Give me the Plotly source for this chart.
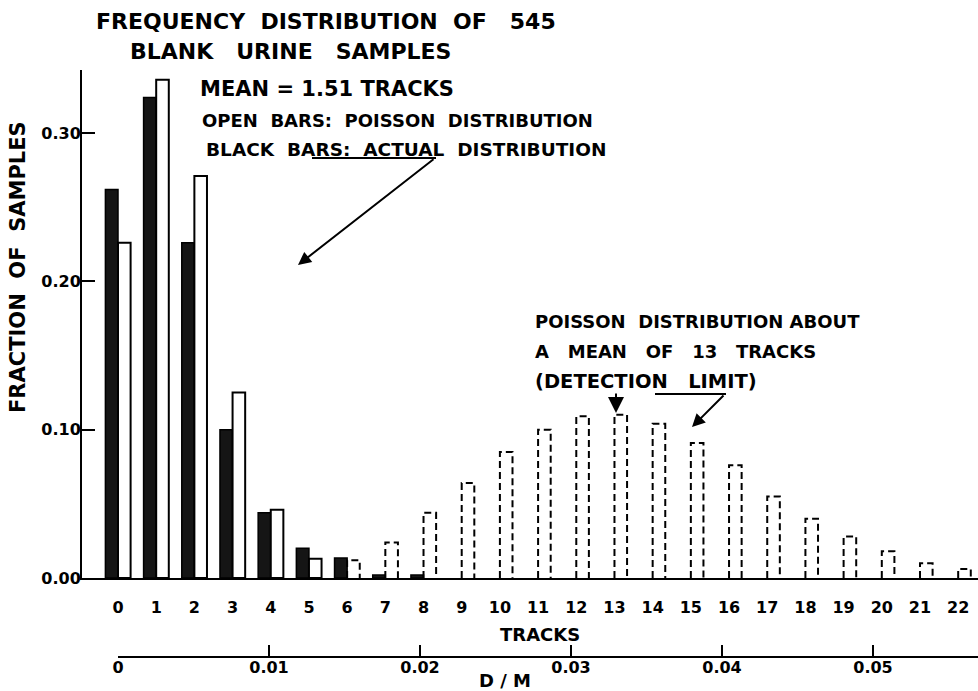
import plotly.graph_objects as go

# ---- data ----
tracks = list(range(0, 23))
tick_labels = [str(t) for t in tracks]

actual_tracks = [0, 1, 2, 3, 4, 5, 6, 7, 8]
actual_frac = [0.262, 0.324, 0.226, 0.100, 0.044, 0.020, 0.0135, 0.002, 0.002]

poisson_low_tracks = [0, 1, 2, 3, 4, 5]
poisson_low_frac = [0.226, 0.336, 0.271, 0.125, 0.046, 0.013]

poisson_13_tracks = [6, 7, 8, 9, 10, 11, 12, 13, 14, 15, 16, 17, 18, 19, 20, 21, 22]
poisson_13_frac = [0.012, 0.024, 0.044, 0.064, 0.085, 0.100, 0.109, 0.110, 0.104,
                   0.091, 0.076, 0.055, 0.040, 0.028, 0.018, 0.010, 0.006]

dm_ticks = [0, 0.01, 0.02, 0.03, 0.04, 0.05]
dm_labels = ["0", "0.01", "0.02", "0.03", "0.04", "0.05"]
y_ticks = [0.0, 0.1, 0.2, 0.3]

# ---- geometry ----
W_PX, H_PX = 978, 691
L, R, T, B = 82, 978, 70, 657          # plot-area pixel box
BASE = 578                              # pixel row of the tracks axis
PW, PH = R - L, B - T

def xp(px):
    return (px - L) / PW

def yp(py):
    return (B - py) / PH

BAR_W = 0.33
OFF = 0.165
FONT = "DejaVu Sans"
NB = "\u00a0"

fig = go.Figure()

# actual distribution (black bars)
fig.add_trace(go.Bar(
    x=[t - OFF for t in actual_tracks], y=actual_frac, width=BAR_W,
    marker=dict(color="#151515", line=dict(color="#000000", width=1.5)),
    showlegend=False, hoverinfo="skip"))

# Poisson, mean 1.51 (open bars, solid outline)
fig.add_trace(go.Bar(
    x=[t + OFF for t in poisson_low_tracks], y=poisson_low_frac, width=BAR_W,
    marker=dict(color="white", line=dict(color="#000000", width=2)),
    showlegend=False, hoverinfo="skip"))

# Poisson, mean 13 (open bars, dashed outline) -- outline built from the data
dx, dy = [], []
for t, v in zip(poisson_13_tracks, poisson_13_frac):
    c = t + OFF
    dx += [c - BAR_W / 2, c - BAR_W / 2, c + BAR_W / 2, c + BAR_W / 2, None]
    dy += [0, v, v, 0, None]
fig.add_trace(go.Scatter(
    x=dx, y=dy, mode="lines",
    line=dict(color="#000000", width=2, dash="7px,4px"),
    showlegend=False, hoverinfo="skip", cliponaxis=False))

# invisible trace so the D/M axis is drawn
fig.add_trace(go.Scatter(
    x=[dm_ticks[0], dm_ticks[-1]], y=[0, 0], xaxis="x2", yaxis="y",
    mode="markers", marker=dict(opacity=0), showlegend=False, hoverinfo="skip"))

px_per_track = 38.19
x0_px = 118
xr = [(L - x0_px) / px_per_track, (R - x0_px) / px_per_track]

px_per_dm = 15100.0
dm_range = [0, (R - x0_px) / px_per_dm]

fig.update_layout(
    width=W_PX, height=H_PX,
    margin=dict(l=L, r=W_PX - R, t=T, b=H_PX - B),
    paper_bgcolor="white", plot_bgcolor="rgba(0,0,0,0)",
    barmode="overlay",
    font=dict(family=FONT, color="black"),
    xaxis=dict(
        range=xr, tickvals=tracks, ticktext=tick_labels,
        showline=True, linecolor="black", linewidth=2,
        showgrid=False, zeroline=False, ticks="", anchor="y",
        ticklabelstandoff=14,
        tickfont=dict(family=FONT, size=16, weight="bold", color="black")),
    yaxis=dict(
        range=[0, 0.3425], domain=[yp(BASE), 1],
        tickvals=y_ticks, tickformat=".2f",
        showline=True, linecolor="black", linewidth=2,
        showgrid=False, zeroline=False,
        ticks="inside", ticklen=13, tickwidth=2, tickcolor="black",
        ticklabelstandoff=-4,
        tickfont=dict(family=FONT, size=16, weight="bold", color="black")),
    xaxis2=dict(
        range=dm_range, domain=[xp(x0_px), 1], anchor="free", position=0,
        tickvals=dm_ticks, ticktext=dm_labels,
        showline=True, linecolor="black", linewidth=2,
        showgrid=False, zeroline=False,
        ticks="inside", ticklen=11, tickwidth=2, tickcolor="black",
        ticklabelstandoff=-4,
        tickfont=dict(family=FONT, size=16, weight="bold", color="black")),
)

def txt(s, px, py, size, anchor="left", angle=0):
    fig.add_annotation(
        text=s, x=xp(px), y=yp(py), xref="paper", yref="paper",
        xanchor=anchor, yanchor="middle", showarrow=False, textangle=angle,
        font=dict(family=FONT, size=size, weight="bold", color="black"))

def sp(s, n):
    return s.replace(" ", NB * n)

txt(sp("FREQUENCY DISTRIBUTION OF", 2) + NB * 3 + "545", 94, 21, 22)
txt(sp("BLANK URINE SAMPLES", 3), 128, 52, 22)
txt("MEAN = 1.51 TRACKS", 198, 89, 21)
txt(sp("OPEN BARS: POISSON DISTRIBUTION", 2), 200, 121, 18)
txt(sp("BLACK BARS: ACTUAL DISTRIBUTION", 2), 204, 149, 18.5)
txt(sp("POISSON DISTRIBUTION", 2) + " ABOUT", 533, 321, 18)
txt(sp("A MEAN OF 13 TRACKS", 3), 533, 351, 18)
txt("(DETECTION" + NB * 3 + "LIMIT)", 533, 381, 19.5)
txt(sp("FRACTION OF SAMPLES", 2), 18, 267, 21, anchor="center", angle=-90)
txt("TRACKS", 540, 634, 18, anchor="center")
txt("D / M", 505, 680, 18, anchor="center")

def arrow(head, tail, size=1.3, style=2):
    fig.add_annotation(
        x=xp(head[0]), y=yp(head[1]), xref="paper", yref="paper",
        ax=tail[0] - head[0], ay=tail[1] - head[1],
        showarrow=True, arrowhead=style, arrowsize=size, arrowwidth=2,
        arrowcolor="black", text="")

def hline(x0, x1, py):
    fig.add_shape(type="line", xref="paper", yref="paper",
                  x0=xp(x0), x1=xp(x1), y0=yp(py), y1=yp(py),
                  line=dict(color="black", width=2))

hline(312, 436, 158)
arrow((298, 265), (435, 158))
hline(655, 726, 394)
arrow((692, 427), (725, 394))
arrow((616, 413), (616, 392), size=1.6)

fig.write_html(
    "out.html",
    config={"displayModeBar": False},
    post_script="document.body.style.margin='0px';document.body.style.overflow='hidden';")
